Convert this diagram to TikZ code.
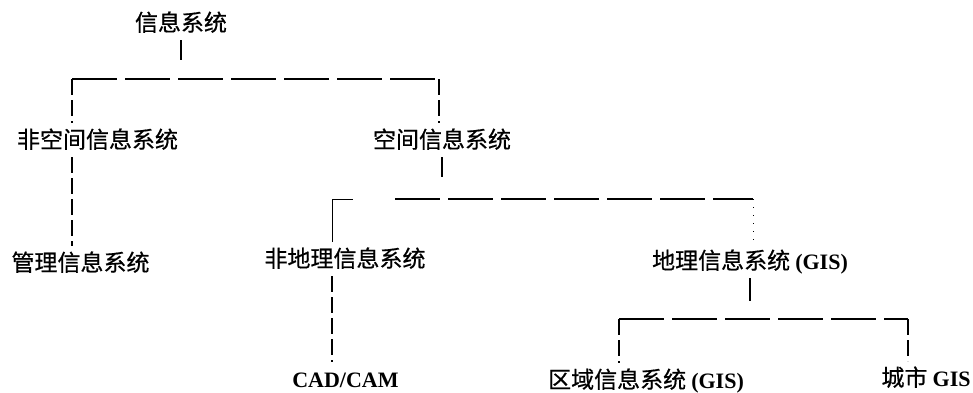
\documentclass[tikz,border=0pt]{standalone}
\usepackage{fontspec}
\setmainfont{Liberation Serif}
\newfontfamily\cjk[FakeBold=0.6]{Noto Sans CJK SC}
\newcommand\latb[1]{{\rmfamily\bfseries\fontsize{22}{22}\selectfont #1}}
\tikzset{
  lbl/.style={inner xsep=0pt, inner ysep=7pt, outer sep=0pt, text height=18pt, text depth=2pt,
    font=\cjk\fontsize{23}{23}\selectfont},
  solidln/.style={line width=1.2pt, black},
  thinln/.style={line width=0.9pt, black},
  hdash/.style={line width=1.3pt, black, dash pattern=on 45pt off 8pt},
  vdash/.style={line width=1.2pt, black, dash pattern=on 16pt off 5pt},
  dotln/.style={line width=0.8pt, black, dash pattern=on 1pt off 7pt},
}
\begin{document}
\begin{tikzpicture}[x=1pt,y=-1pt]
\useasboundingbox (0,0) rectangle (973,392);
% nodes
\node[lbl] (root) at (181,23) {信息系统};
\node[lbl] (nsp) at (97.5,140) {非空间信息系统};
\node[lbl] (sp) at (442,140) {空间信息系统};
\node[lbl] (mis) at (80.5,263) {管理信息系统};
\node[lbl] (ngis) at (345,259) {非地理信息系统};
\node[lbl] (gis) at (750,261) {地理信息系统 \latb{(GIS)}};
\node[lbl] (cad) at (345.5,379) {\latb{CAD/CAM}};
\node[lbl] (rgis) at (646,380) {区域信息系统 \latb{(GIS)}};
\node[lbl] (cgis) at (926,378) {城市 \latb{GIS}};
% bus coordinates
\coordinate (b1l) at (72,79);
\coordinate (b1r) at (439,79);
\coordinate (b2l) at (332,199);
\coordinate (b2m) at (395,199);
\coordinate (b2r) at (753,199);
\coordinate (b3l) at (619,319);
\coordinate (b3r) at (908,319);
% level 1
\draw[solidln] (root.south) -- ++(0,20);
\draw[hdash] (b1l) -- (b1r);
\draw[vdash] (b1l) -- (b1l |- nsp.north);
\draw[vdash] (b1r) -- (b1r |- sp.north);
\draw[vdash] (b1l |- nsp.south) -- (b1l |- mis.north);
% level 2
\draw[solidln] (sp.south) -- ++(0,20);
\draw[thinln] (b2l |- ngis.north) -- (b2l) -- ++(21,0);
\draw[hdash] (b2m) -- (b2r);
\draw[dotln] (b2r) -- (b2r |- gis.north);
\draw[vdash] (b2l |- ngis.south) -- (b2l |- cad.north);
% level 3
\draw[solidln] (gis.south) -- ++(0,23);
\draw[hdash] (b3l) -- (b3r);
\draw[vdash] (b3l) -- (b3l |- rgis.north);
\draw[vdash] (b3r) -- (b3r |- cgis.north);
\end{tikzpicture}
\end{document}
